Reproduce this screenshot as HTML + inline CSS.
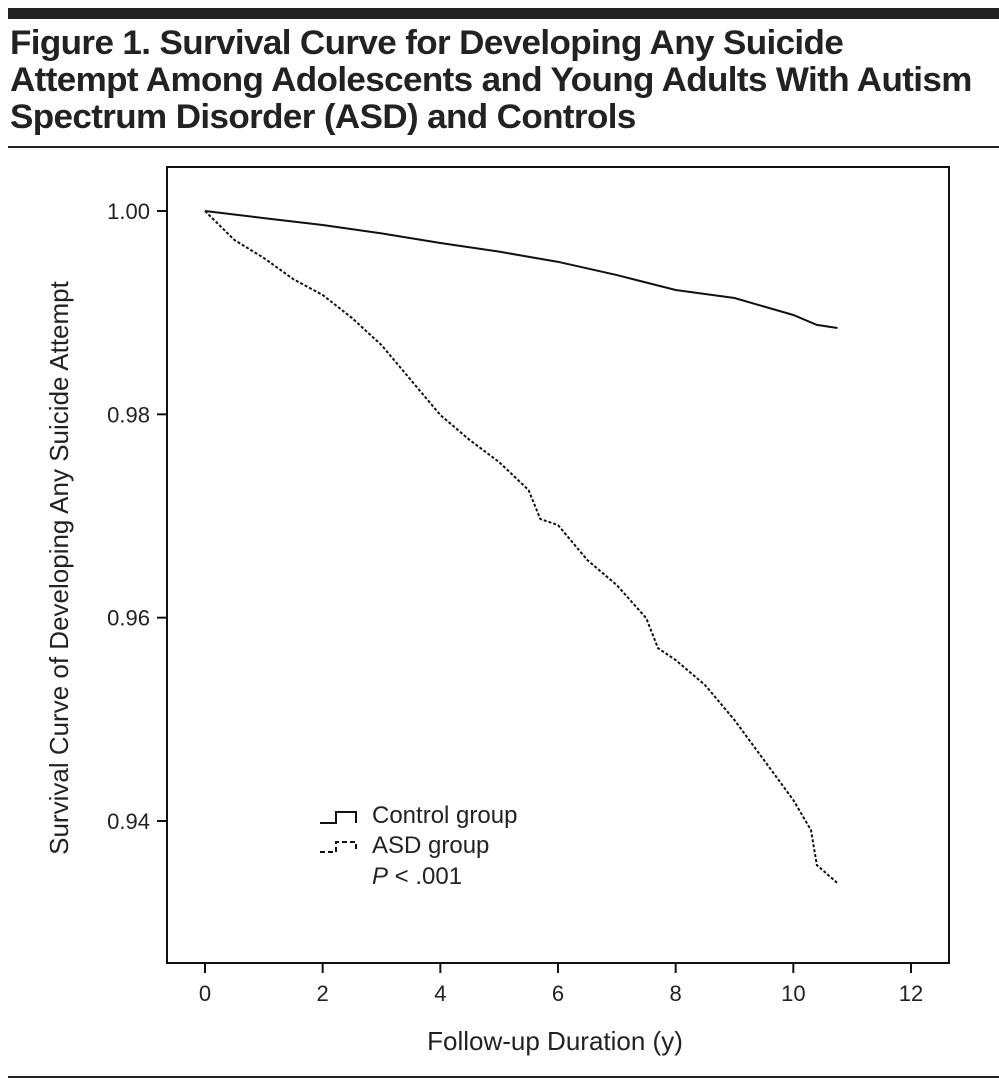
<!DOCTYPE html>
<html><head><meta charset="utf-8"><style>
body{margin:0;width:999px;height:1086px;background:#fff;overflow:hidden;font-family:"Liberation Sans",sans-serif}
#title{position:absolute;left:10px;top:25px;font-weight:bold;font-size:34px;line-height:37px;color:#222;transform:scaleX(1.03);transform-origin:left top;white-space:nowrap;letter-spacing:-0.6px}
</style></head><body>
<div style="position:absolute;left:8px;top:8px;width:991px;height:11px;background:#222"></div>
<div id="title">Figure 1. Survival Curve for Developing Any Suicide<br>Attempt Among Adolescents and Young Adults With Autism<br>Spectrum Disorder (ASD) and Controls</div>
<div style="position:absolute;left:8px;top:146px;width:991px;height:2px;background:#222"></div>
<div style="position:absolute;left:8px;top:1076px;width:991px;height:2px;background:#222"></div>
<svg id="chart" width="999" height="1086" style="position:absolute;left:0;top:0" font-family="Liberation Sans, sans-serif"></svg>
<script>
const xTicks=[0,2,4,6,8,10,12];
const yTicks=[1.00,0.98,0.96,0.94];
const yTickLabels=["1.00","0.98","0.96","0.94"];
const controlT=[0,1,2,3,4,5,6,7,8,9,10,10.4,10.75];
const controlS=[1.0,0.9993,0.99862,0.9978,0.99685,0.9960,0.9950,0.9937,0.99223,0.99144,0.98977,0.9888,0.98849];
const asdT=[0,0.5,1,1.5,2,2.5,3,3.5,4,4.5,5,5.5,5.7,6,6.5,7,7.5,7.7,8,8.5,9,9.5,10,10.3,10.4,10.75];
const asdS=[1.0,0.99715,0.99538,0.9933,0.99174,0.98947,0.98681,0.98337,0.97993,0.97747,0.9753,0.97255,0.9697,0.96911,0.96566,0.9632,0.95995,0.957,0.95583,0.95337,0.94993,0.946,0.94206,0.9391,0.93566,0.93389];
const svg=document.getElementById('chart');const NS='http://www.w3.org/2000/svg';
const X=v=>205+v*(911-205)/12;
const Y=v=>211+(1-v)*(821-211)/0.06;
function mk(t,a,p){const e=document.createElementNS(NS,t);for(const k in a)e.setAttribute(k,a[k]);(p||svg).appendChild(e);return e;}
const box=mk('rect',{x:167,y:167,width:782,height:796,fill:'none',stroke:'#111','stroke-width':2});


xTicks.forEach(v=>{
 const l=mk('line',{x1:X(v),x2:X(v),y1:963,y2:973,stroke:'#111','stroke-width':2});
 
 
 const t=mk('text',{x:X(v),y:1001,'text-anchor':'middle','font-size':22,fill:'#222'});t.textContent=v;
 
 
});
yTicks.forEach((v,i)=>{
 const l=mk('line',{x1:157,x2:167,y1:Y(v),y2:Y(v),stroke:'#111','stroke-width':2});
 
 
 const t=mk('text',{x:150,y:Y(v)+8,'text-anchor':'end','font-size':22,fill:'#222'});t.textContent=yTickLabels[i];
 
 
});
const xt=mk('text',{x:555,y:1050,'text-anchor':'middle','font-size':26,fill:'#222'});xt.textContent='Follow-up Duration (y)';


const yt=mk('text',{x:0,y:0,'text-anchor':'middle','font-size':26,fill:'#222',transform:'translate(68,568) rotate(-90)'});yt.textContent='Survival Curve of Developing Any Suicide Attempt';


function line(T,S){let d='M'+X(T[0])+','+Y(S[0]);for(let i=1;i<T.length;i++){d+=' L'+X(T[i])+','+Y(S[i]);}return d;}
const c=mk('path',{d:line(controlT,controlS),fill:'none',stroke:'#111','stroke-width':2});


const a=mk('path',{d:line(asdT,asdS),fill:'none',stroke:'#111','stroke-width':2,'stroke-dasharray':'3,2'});


const l1=mk('path',{d:'M320,823 L336,823 L336,812 L356,812 L356,823',fill:'none',stroke:'#111','stroke-width':2});


const l2=mk('path',{d:'M320,852 L336,852 L336,842 L356,842 L356,852',fill:'none',stroke:'#111','stroke-width':2,'stroke-dasharray':'5,3'});


[['Control group',823,'legend-control-label'],['ASD group',853,'legend-asd-label']].forEach(([s,y,n])=>{const t=mk('text',{x:372,y:y,'font-size':24,fill:'#222'});t.textContent=s;
 
 });
const p=mk('text',{x:372,y:884,'font-size':24,fill:'#222'});p.innerHTML='<tspan font-style="italic">P</tspan> &lt; .001';


</script>
</body></html>
